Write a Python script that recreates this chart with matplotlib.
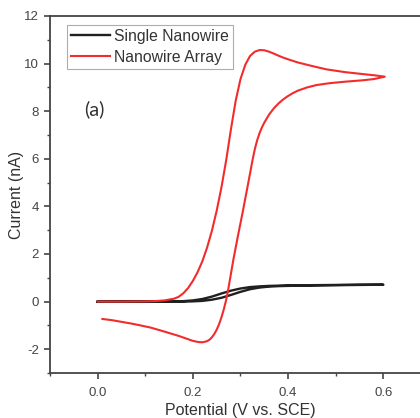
import matplotlib
matplotlib.use("Agg")
import matplotlib.pyplot as plt
from matplotlib.ticker import MultipleLocator

plt.rcParams['font.family'] = ['Liberation Sans', 'DejaVu Sans']
plt.rcParams['axes.unicode_minus'] = False

# Nanowire array CV (forward then reverse scan)
array_fwd_x = [0.00, 0.05, 0.10, 0.12, 0.14, 0.16, 0.17, 0.18, 0.19, 0.20, 0.21, 0.22, 0.23,
               0.24, 0.25, 0.26, 0.27, 0.28, 0.29, 0.30, 0.31, 0.32, 0.33, 0.34, 0.35, 0.36,
               0.37, 0.38, 0.39, 0.40, 0.42, 0.45, 0.48, 0.52, 0.557, 0.585, 0.603]
array_fwd_y = [0.00, 0.00, 0.01, 0.02, 0.05, 0.12, 0.20, 0.35, 0.57, 0.87, 1.24, 1.70, 2.28,
               2.98, 3.82, 4.80, 5.95, 7.25, 8.45, 9.35, 9.95, 10.32, 10.50, 10.57, 10.56, 10.50,
               10.42, 10.33, 10.25, 10.18, 10.05, 9.90, 9.76, 9.64, 9.56, 9.50, 9.45]
array_rev_x = [0.603, 0.58, 0.557, 0.52, 0.488, 0.46, 0.44, 0.42, 0.41, 0.40, 0.39, 0.38, 0.37,
               0.36, 0.35, 0.345, 0.34, 0.335, 0.33, 0.325, 0.32, 0.315, 0.31, 0.305, 0.30,
               0.295, 0.29, 0.285, 0.28, 0.275, 0.27, 0.265, 0.26, 0.255, 0.25, 0.245, 0.24,
               0.235, 0.23, 0.225, 0.22, 0.212, 0.20, 0.19, 0.18, 0.17, 0.16, 0.147, 0.13, 0.111,
               0.09, 0.07, 0.05, 0.03, 0.01]
array_rev_y = [9.45, 9.35, 9.30, 9.24, 9.18, 9.10, 9.00, 8.86, 8.76, 8.64, 8.50, 8.33, 8.12,
               7.86, 7.52, 7.32, 7.08, 6.78, 6.40, 5.92, 5.38, 4.85, 4.33, 3.80, 3.30,
               2.80, 2.28, 1.76, 1.18, 0.60, 0.08, -0.32, -0.66, -0.95, -1.18, -1.36, -1.50,
               -1.60, -1.66, -1.69, -1.71, -1.70, -1.65, -1.58, -1.51, -1.44, -1.38, -1.30, -1.20, -1.09,
               -1.00, -0.92, -0.85, -0.78, -0.73]

# Single nanowire CV
single_fwd_x = [0.00, 0.10, 0.15, 0.18, 0.20, 0.22, 0.24, 0.26, 0.28, 0.30, 0.32, 0.34, 0.36,
                0.38, 0.40, 0.45, 0.50, 0.55, 0.60]
single_fwd_y = [0.00, 0.00, 0.00, 0.00, 0.01, 0.03, 0.08, 0.16, 0.28, 0.41, 0.52, 0.59, 0.63,
                0.65, 0.66, 0.68, 0.69, 0.70, 0.71]
single_rev_x = [0.60, 0.55, 0.50, 0.45, 0.40, 0.38, 0.36, 0.34, 0.32, 0.30, 0.28, 0.26, 0.24,
                0.22, 0.20, 0.18, 0.15, 0.10, 0.00]
single_rev_y = [0.71, 0.71, 0.70, 0.69, 0.68, 0.67, 0.66, 0.64, 0.61, 0.55, 0.46, 0.34, 0.21,
                0.11, 0.05, 0.02, 0.01, 0.00, -0.01]

xticks = [0.0, 0.2, 0.4, 0.6]
yticks = [-2, 0, 2, 4, 6, 8, 10, 12]

fig = plt.figure(figsize=(4.2, 4.18), dpi=100)
ax = fig.add_axes([50/420, 45/418, 381/420, 357/418])

red = '#f22c2c'
black = '#202020'
ax.plot(single_fwd_x + single_rev_x, single_fwd_y + single_rev_y, color=black, lw=1.7,
        label='Single Nanowire', zorder=2, solid_joinstyle='round')
ax.plot(array_fwd_x + array_rev_x, array_fwd_y + array_rev_y, color=red, lw=1.5,
        label='Nanowire Array', zorder=3, solid_joinstyle='round')

ax.set_xlim(-0.1, 0.7)
ax.set_ylim(-3, 12)
ax.set_xticks(xticks)
ax.set_yticks(yticks)
ax.set_xticklabels(['0.0', '0.2', '0.4', '0.6'])
ax.xaxis.set_minor_locator(MultipleLocator(0.1))
ax.yaxis.set_minor_locator(MultipleLocator(1))

spine_c = '#444444'
for s in ax.spines.values():
    s.set_color(spine_c)
    s.set_linewidth(1.3)
ax.tick_params(which='major', direction='out', length=4, width=1.2, color=spine_c,
               labelsize=9.5, labelcolor='#444444')
ax.tick_params(axis='x', which='major', pad=6)
ax.tick_params(axis='y', which='major', pad=4)
ax.tick_params(which='minor', direction='out', length=2.5, width=1.0, color=spine_c)

ax.set_xlabel('Potential (V vs. SCE)', fontsize=11.5, color='#333333', labelpad=3)
ax.set_ylabel('Current (nA)', fontsize=11.5, color='#333333', labelpad=0)

leg = ax.legend(loc='upper left', bbox_to_anchor=(0.045, 0.975), borderaxespad=0,
                fontsize=11.3, frameon=True, fancybox=False, handlelength=2.5,
                handletextpad=0.25, borderpad=0.25, labelspacing=0.4, handleheight=0.8)
leg.get_frame().set_edgecolor('#999999')
leg.get_frame().set_linewidth(0.8)
for t in leg.get_texts():
    t.set_color('#333333')

ax.text(-0.006, 8.1, '(a)', fontsize=14.5, family=['Lato', 'DejaVu Sans'], color='#333333',
        ha='center', va='center', style='normal')

fig.savefig('out.png', dpi=100)
